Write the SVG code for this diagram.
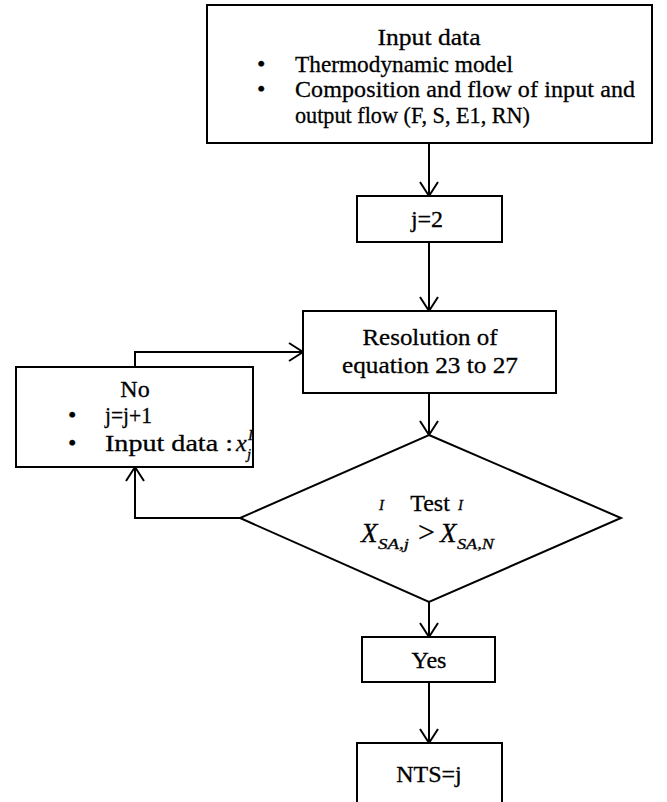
<svg xmlns="http://www.w3.org/2000/svg" width="667" height="802" viewBox="0 0 667 802">
<style>
.b{fill:#fff;stroke:#000;stroke-width:2}
.c{fill:none;stroke:#000;stroke-width:2}
.t{font-family:"Liberation Serif","Times New Roman",serif;font-size:24px;fill:#000;stroke:#000;stroke-width:0.3}
.m{font-style:italic}
.s{font-size:15px}
</style>
<defs>
<marker id="a" markerUnits="userSpaceOnUse" markerWidth="18" markerHeight="20" viewBox="-16 -10 18 20" refX="0" refY="0" orient="auto" overflow="visible">
<path d="M-14,-9 L0,0 L-14,9" fill="none" stroke="#000" stroke-width="2"/>
</marker>
</defs>
<rect width="667" height="802" fill="#fff"/>
<g id="connectors">
<line class="c" x1="429" y1="143" x2="429" y2="196" marker-end="url(#a)"/>
<line class="c" x1="429" y1="242" x2="429" y2="311" marker-end="url(#a)"/>
<line class="c" x1="429" y1="393" x2="429" y2="435" marker-end="url(#a)"/>
<line class="c" x1="429" y1="602" x2="429" y2="637" marker-end="url(#a)"/>
<line class="c" x1="429" y1="682" x2="429" y2="743" marker-end="url(#a)"/>
<polyline class="c" points="240,518 135,518 135,467" marker-end="url(#a)"/>
<polyline class="c" points="135,367 135,352 303,352" marker-end="url(#a)"/>
</g>
<g id="input">
<rect class="b" x="207" y="5" width="445" height="138"/>
<text class="t" x="429" y="45" text-anchor="middle" textLength="103" lengthAdjust="spacingAndGlyphs">Input data</text>
<text class="t" x="257" y="72">•</text>
<text class="t" x="295" y="72" textLength="218" lengthAdjust="spacingAndGlyphs">Thermodynamic model</text>
<text class="t" x="257" y="97">•</text>
<text class="t" x="295" y="97" textLength="340" lengthAdjust="spacing">Composition and flow of input and</text>
<text class="t" x="295" y="123" textLength="235" lengthAdjust="spacingAndGlyphs">output flow (F, S, E1, RN)</text>
</g>
<g id="j2">
<rect class="b" x="357" y="196" width="145" height="46"/>
<text class="t" x="427" y="227" text-anchor="middle">j=2</text>
</g>
<g id="resolution">
<rect class="b" x="303" y="311" width="253" height="82"/>
<text class="t" x="430" y="345" text-anchor="middle" textLength="135" lengthAdjust="spacingAndGlyphs">Resolution of</text>
<text class="t" x="430" y="373" text-anchor="middle" textLength="176" lengthAdjust="spacingAndGlyphs">equation 23 to 27</text>
</g>
<g id="no">
<rect class="b" x="16" y="367" width="237" height="100"/>
<text class="t" x="135" y="397" text-anchor="middle">No</text>
<text class="t" x="68" y="423">•</text>
<text class="t" x="105" y="423" textLength="47" lengthAdjust="spacingAndGlyphs">j=j+1</text>
<text class="t" x="68" y="451">•</text>
<text class="t" x="105" y="451" textLength="128" lengthAdjust="spacingAndGlyphs">Input data :</text>
<text class="t m"><tspan x="236" y="451">x</tspan><tspan class="s" x="248" y="440">I</tspan><tspan class="s" x="247" y="459">j</tspan></text>
</g>
<g id="test">
<polygon class="b" points="429,435 621,518 429,602 240,518"/>
<text class="t" x="430" y="511" text-anchor="middle">Test</text>
<text class="t m"><tspan x="361" y="542" font-size="27">X</tspan><tspan class="s" x="379" y="510">I</tspan><tspan class="s" x="378" y="549" textLength="31" lengthAdjust="spacingAndGlyphs">SA,j</tspan><tspan x="418" y="542" font-style="normal" font-size="30">&gt;</tspan><tspan x="440" y="542" font-size="27">X</tspan><tspan class="s" x="458" y="510">I</tspan><tspan class="s" x="457" y="549" textLength="37" lengthAdjust="spacingAndGlyphs">SA,N</tspan></text>
</g>
<g id="yes">
<rect class="b" x="362" y="637" width="133" height="45"/>
<text class="t" x="429" y="668" text-anchor="middle">Yes</text>
</g>
<g id="nts">
<rect class="b" x="357" y="743" width="145" height="70"/>
<text class="t" x="429" y="782" text-anchor="middle">NTS=j</text>
</g>
</svg>
